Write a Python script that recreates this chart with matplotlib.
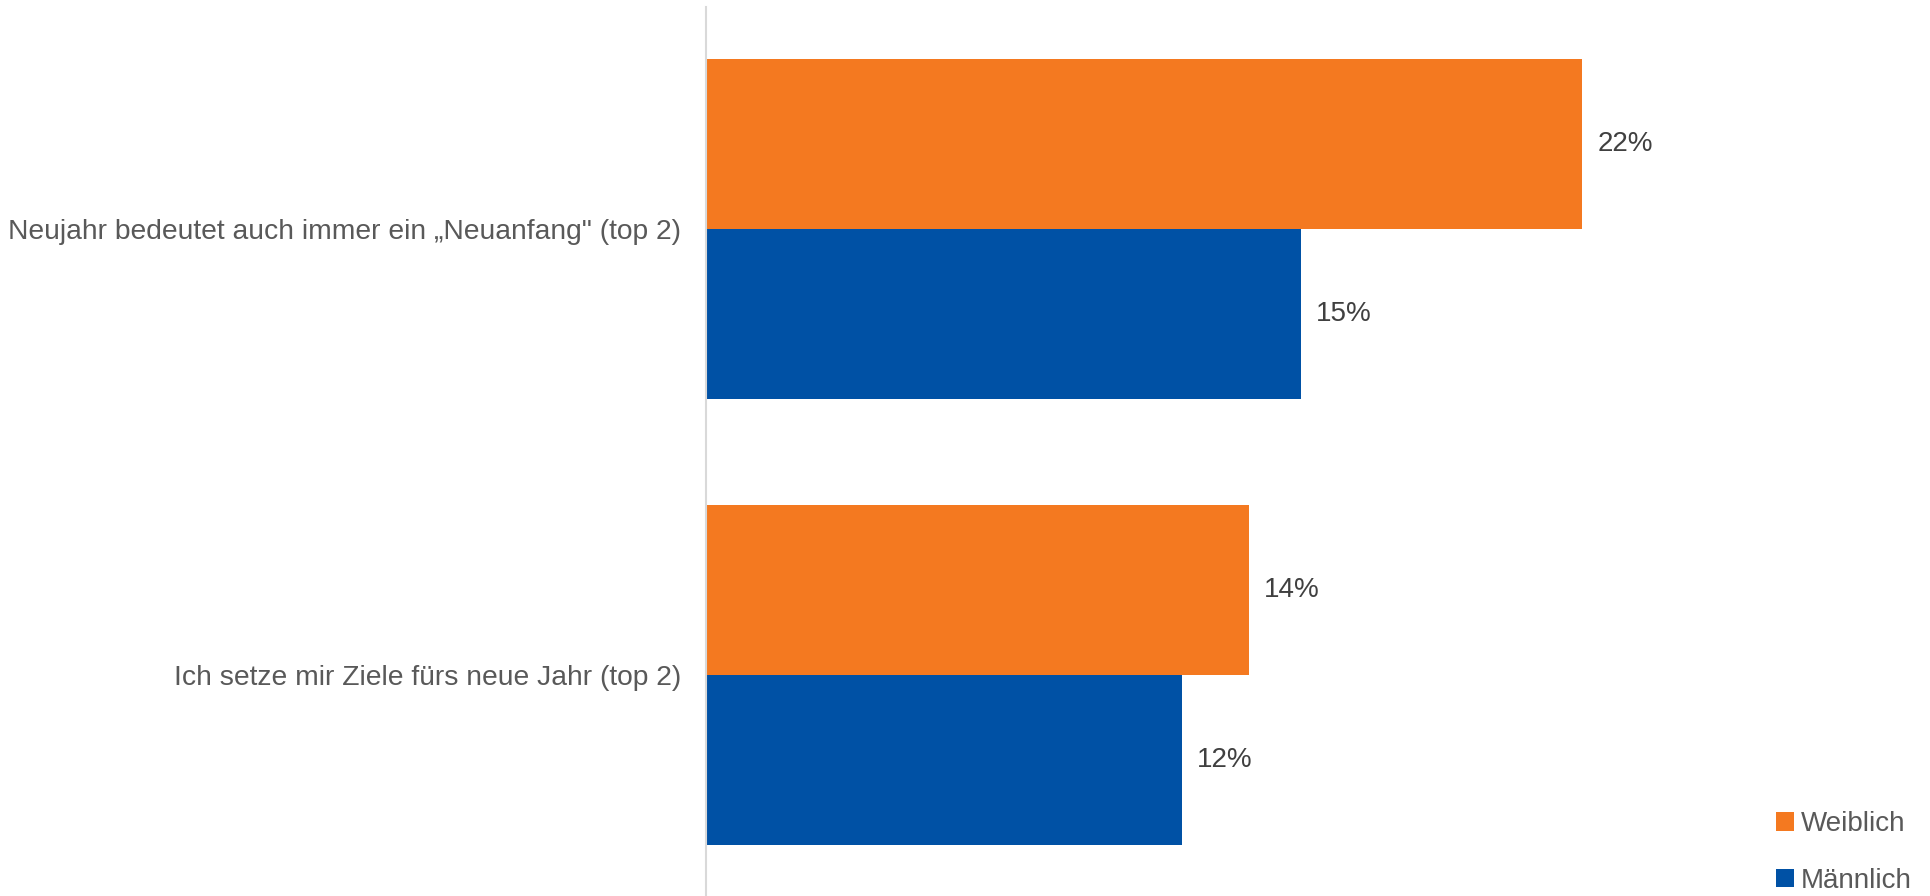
import matplotlib.pyplot as plt
import numpy as np

categories = ["Neujahr bedeutet auch immer ein \u201eNeuanfang\" (top 2)",
              "Ich setze mir Ziele f\u00fcrs neue Jahr (top 2)"]
weiblich = [22.1, 13.7]
maennlich = [15, 12]
series_names = ["Weiblich", "M\u00e4nnlich"]

orange = "#F47920"
blue = "#0051A5"

plt.rcParams['font.family'] = ['Liberation Sans', 'DejaVu Sans']

fig = plt.figure(figsize=(19.31, 8.96), dpi=100)
ax = fig.add_axes([706 / 1931, 0, 1 - 706 / 1931, 889 / 896])

y = np.arange(len(categories))
h = 0.381
ax.barh(y - h / 2, weiblich, height=h, color=orange, label=series_names[0])
ax.barh(y + h / 2, maennlich, height=h, color=blue, label=series_names[1])

for yy, vals in [(y - h / 2, weiblich), (y + h / 2, maennlich)]:
    for yi, v in zip(yy, vals):
        ax.text(v + 0.38, yi, f"{round(v)}%", va="center", ha="left",
                fontsize=20, color="#404040")

ax.set_xlim(0, 30.9)
ax.set_ylim(1.496, -0.498)
ax.set_yticks(y)
ax.set_yticklabels(categories, fontsize=20.3, color="#595959")
ax.tick_params(axis="y", length=0, pad=18)
ax.set_xticks([])
for s in ["top", "right", "bottom"]:
    ax.spines[s].set_visible(False)
ax.spines["left"].set_color("#D9D9D9")
ax.spines["left"].set_linewidth(1.5)

fig.legend(loc="lower right", bbox_to_anchor=(1.0, -0.019), frameon=False,
           fontsize=20, handlelength=0.65, handleheight=0.65, handletextpad=0.25,
           labelspacing=1.1, borderaxespad=0.3, labelcolor="#595959")

fig.savefig("out.png", dpi=100)
